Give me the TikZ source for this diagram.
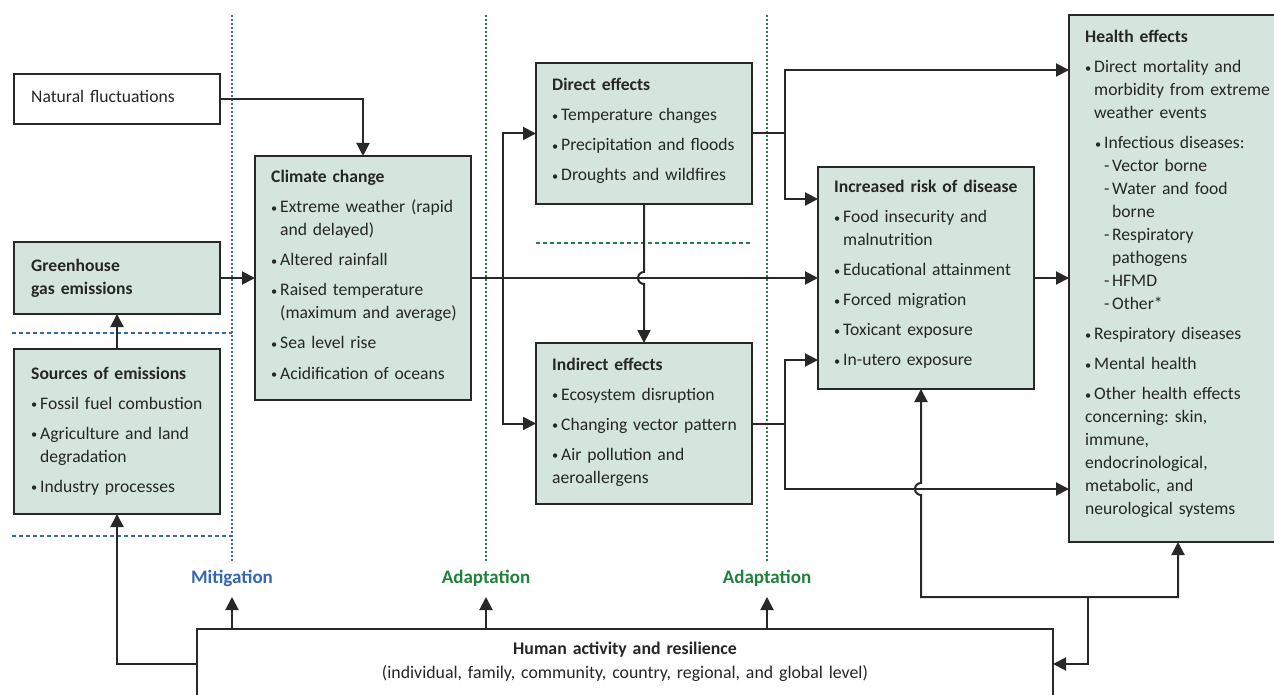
\documentclass[tikz,border=0pt]{standalone}
\usepackage{fontspec}
\setmainfont{Carlito}
\usetikzlibrary{arrows.meta,calc}
\definecolor{gfill}{RGB}{212,229,221}
\definecolor{bord}{RGB}{40,40,40}
\definecolor{txtc}{RGB}{38,38,38}
\definecolor{mblue}{RGB}{52,104,180}
\definecolor{agreen}{RGB}{30,130,60}
\frenchspacing
\newcommand\bul{\raisebox{0.5pt}{\scalebox{0.7}{\textbullet}}}
\newcommand\ttl[1]{{\bfseries #1}}
\newcommand\bl[1]{\par\vspace{7pt}\leftskip=0pt\hangindent=9pt\hangafter=1\noindent\makebox[9pt][l]{\bul}#1}
\newcommand\blx[1]{\par\vspace{7pt}\leftskip=10pt\hangindent=9pt\hangafter=1\noindent\makebox[9pt][l]{\bul}#1}
\newcommand\dsh[1]{\par\leftskip=19pt\hangindent=8pt\hangafter=1\noindent\makebox[8pt][l]{-}#1}
\begin{document}
\begin{tikzpicture}[x=1pt,y=1pt,
 gbox/.style={draw=bord,line width=2.4pt,fill=gfill,anchor=north west,inner sep=0pt,outer sep=0pt},
 wbox/.style={draw=bord,line width=2.4pt,fill=white,anchor=north west,inner sep=0pt,outer sep=0pt},
 txt/.style={anchor=base west,inner sep=0pt,text width=260pt,align=left,text=txtc,font=\fontsize{17.6}{23}\selectfont\frenchspacing},
 conn/.style={draw=bord,line width=2pt},
 arr/.style={conn,-{Triangle[length=13pt,width=13pt]}},
 arrboth/.style={conn,{Triangle[length=13pt,width=13pt]}-{Triangle[length=13pt,width=13pt]}},
 lbl/.style={inner sep=0pt,font=\fontsize{19}{22}\selectfont\bfseries},
 bdot/.style={draw=mblue,line width=1.4pt,dash pattern=on 2pt off 2pt},
 bdash/.style={draw=mblue,line width=1.4pt,dash pattern=on 4pt off 3pt},
 gdot/.style={draw=agreen,line width=1.4pt,dash pattern=on 2pt off 2pt},
 gdash/.style={draw=agreen,line width=1.4pt,dash pattern=on 4pt off 3pt}]
\useasboundingbox (0,0) rectangle (1274,-695);
\fill[white] (0,0) rectangle (1274,-695);
% guide lines
\draw[bdot] (232,-15) -- (232,-563);
\draw[bdash] (12,-333) -- (232,-333);
\draw[bdash] (12,-536) -- (232,-536);
\draw[gdot] (486,-15) -- (486,-563);
\draw[gdot] (767,-15) -- (767,-563);
\draw[gdash] (536,-243) -- (752,-243);
% boxes
\node[wbox,minimum width=206pt,minimum height=50pt] (nf) at (14,-74) {};
\node[gbox,minimum width=206pt,minimum height=72pt] (gh) at (14,-242) {};
\node[gbox,minimum width=206pt,minimum height=165pt] (src) at (14,-349) {};
\node[gbox,minimum width=216pt,minimum height=244pt] (cc) at (255,-156) {};
\node[gbox,minimum width=216pt,minimum height=141pt] (de) at (536,-63) {};
\node[gbox,minimum width=216pt,minimum height=161pt] (ie) at (536,-343) {};
\node[gbox,minimum width=216pt,minimum height=222pt] (ir) at (818,-167) {};
\node[gbox,minimum width=218pt,minimum height=527pt] (he) at (1069,-15) {};
\node[wbox,minimum width=856pt,minimum height=70pt] (hum) at (197,-629) {};
% texts
\node[txt] (nft) at (31,-103) {Natural fluctuations};
\node[txt] (ght) at (31,-271) {\ttl{Greenhouse\newline gas emissions}};
\node[txt] (srct) at (31,-379) {\ttl{Sources of emissions}\bl{Fossil fuel combustion}\bl{Agriculture and land\newline degradation}\bl{Industry processes}};
\node[txt] (cct) at (271,-183) {\ttl{Climate change}\bl{Extreme weather (rapid\newline and delayed)}\bl{Altered rainfall}\bl{Raised temperature\newline (maximum and average)}\bl{Sea level rise}\bl{Acidification of oceans}};
\node[txt] (det) at (552,-91) {\ttl{Direct effects}\bl{Temperature changes}\bl{Precipitation and floods}\bl{Droughts and wildfires}};
\node[txt] (iet) at (552,-370) {\ttl{Indirect effects}\bl{Ecosystem disruption}\bl{Changing vector pattern}\bl{Air pollution and\newline aeroallergens}};
\node[txt] (irt) at (834,-193) {\ttl{Increased risk of disease}\bl{Food insecurity and\newline malnutrition}\bl{Educational attainment}\bl{Forced migration}\bl{Toxicant exposure}\bl{In-utero exposure}};
\node[txt] (het) at (1085,-43) {\ttl{Health effects}\bl{Direct mortality and\newline morbidity from extreme\newline weather events}\blx{Infectious diseases:}\dsh{Vector borne}\dsh{Water and food\newline borne}\dsh{Respiratory\newline pathogens}\dsh{HFMD}\dsh{Other*}\bl{Respiratory diseases}\bl{Mental health}\bl{Other health effects\newline concerning: skin,\newline immune,\newline endocrinological,\newline metabolic, and\newline neurological systems}};
\node[anchor=base,inner sep=0pt,text width=840pt,align=center,text=txtc,font=\fontsize{17.8}{24}\selectfont\frenchspacing] (humt) at (625,-654) {\ttl{Human activity and resilience}\\(individual, family, community, country, regional, and global level)};
% labels
\node[lbl,text=mblue] (mit) at (232,-578) {Mitigation};
\node[lbl,text=agreen] (ad1) at (486,-578) {Adaptation};
\node[lbl,text=agreen] (ad2) at (767,-578) {Adaptation};
\coordinate (m1) at (232,-597);
\coordinate (m2) at (486,-597);
\coordinate (m3) at (767,-597);
\draw[arr] (hum.north -| m1) -- (m1);
\draw[arr] (hum.north -| m2) -- (m2);
\draw[arr] (hum.north -| m3) -- (m3);
% connectors
\draw[arr] (nf.east) -| (cc.north);
\draw[arr] (gh.east) -- (gh.east -| cc.west);
\draw[arr] (src.north) -- (gh.south);
\draw[arr] (hum.west) -| (src.south);
\coordinate (br) at ($(cc.east)+(32,0)$);
\draw[arr] (cc.east) -- (ir.west);
\draw[arrboth] (de.west) -| (br) |- (ie.west);
\draw[arr] (de.south) -- ($(de.south |- cc.east)+(0,6)$) arc[start angle=90,end angle=270,radius=6pt] -- (ie.north);
\coordinate (dj) at ($(de.east)+(33,0)$);
\coordinate (hw1) at (1069,-70);
\coordinate (iw1) at (818,-199);
\draw[conn] (de.east) -- (dj);
\draw[arrboth] (hw1) -| (dj |- iw1) -- (iw1);
\draw[arr] (ir.east) -- (ir.east -| he.west);
\coordinate (ij) at ($(ie.east)+(33,0)$);
\coordinate (iw2) at (818,-360);
\coordinate (hw2) at (1069,-489);
\draw[conn] (ie.east) -- (ij);
\draw[arrboth] (iw2) -| (ij |- hw2) -- (hw2);
\coordinate (is) at (921,-389);
\coordinate (bl) at (921,-597);
\draw[arrboth] (is) -- (921,-483) arc[start angle=90,end angle=270,radius=6pt] -- (bl) -| (he.south);
\coordinate (bj) at (1088,-597);
\draw[arr] (bj) |- (hum.east);
\end{tikzpicture}
\end{document}
